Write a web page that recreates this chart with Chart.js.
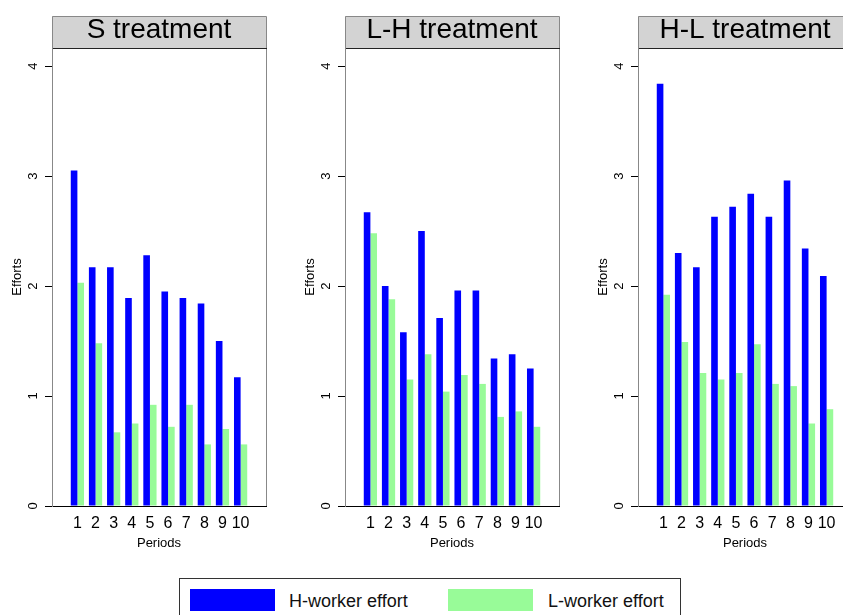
<!DOCTYPE html>
<html>
<head>
<meta charset="utf-8">
<script src="https://cdn.jsdelivr.net/npm/chart.js@4.4.1/dist/chart.umd.min.js"></script>
<style>
  html, body { margin: 0; padding: 0; background: #fff; overflow: hidden; }
  body { width: 843px; height: 615px; position: relative; font-family: "Liberation Sans", Arial, sans-serif; }
  canvas.panel { position: absolute; top: 0; }
  #legend { position: absolute; left: 179px; top: 578px; width: 502px; height: 50px; border: 1.5px solid #333; box-sizing: border-box; }
  .swatch { position: absolute; top: 10px; width: 85px; height: 22px; }
  .label { position: absolute; top: 11px; line-height: 22px; font-size: 18px; color: #111; white-space: nowrap; }
</style>
</head>
<body>
<canvas class="panel" id="panel0" width="293" height="560" style="left:0px"></canvas>
<canvas class="panel" id="panel1" width="293" height="560" style="left:293px"></canvas>
<canvas class="panel" id="panel2" width="293" height="560" style="left:586px"></canvas>
<div id="legend"></div>
<script>
const periods = ['1', '2', '3', '4', '5', '6', '7', '8', '9', '10'];
const effortTicks = [0, 1, 2, 3, 4];
const treatments = ['S treatment', 'L-H treatment', 'H-L treatment'];
const seriesNames = ['H-worker effort', 'L-worker effort'];

const sHigh = [3.05, 2.17, 2.17, 1.89, 2.28, 1.95, 1.89, 1.84, 1.50, 1.17];
const sLow = [2.03, 1.48, 0.67, 0.75, 0.92, 0.72, 0.92, 0.56, 0.70, 0.56];
const lhHigh = [2.67, 2.00, 1.58, 2.50, 1.71, 1.96, 1.96, 1.34, 1.38, 1.25];
const lhLow = [2.48, 1.88, 1.15, 1.38, 1.04, 1.19, 1.11, 0.81, 0.86, 0.72];
const hlHigh = [3.84, 2.30, 2.17, 2.63, 2.72, 2.84, 2.63, 2.96, 2.34, 2.09];
const hlLow = [1.92, 1.49, 1.21, 1.15, 1.21, 1.47, 1.11, 1.09, 0.75, 0.88];

const highColor = '#0000ff';
const lowColor = '#98fb98';
const fontFamily = '"Liberation Sans", Arial, sans-serif';

// grey strip behind the panel title, plus the grey frame around the plot
const stripPlugin = {
    id: 'strip',
    beforeDraw(chart) {
        const { ctx, chartArea } = chart;
        const top = 16;
        ctx.save();
        ctx.fillStyle = '#d3d3d3';
        ctx.fillRect(chartArea.left, top, chartArea.right - chartArea.left, chartArea.top - top);
        ctx.strokeStyle = '#888';
        ctx.lineWidth = 1;
        ctx.beginPath();
        ctx.moveTo(chartArea.left + 0.5, chartArea.bottom);
        ctx.lineTo(chartArea.left + 0.5, top + 0.5);
        ctx.lineTo(chartArea.right + 0.5, top + 0.5);
        ctx.lineTo(chartArea.right + 0.5, chartArea.bottom);
        ctx.stroke();
        ctx.strokeStyle = '#222';
        ctx.beginPath();
        ctx.moveTo(chartArea.left, chartArea.top + 0.5);
        ctx.lineTo(chartArea.right + 1, chartArea.top + 0.5);
        ctx.stroke();
        ctx.restore();
    },
};

function makePanel(canvasId, title, high, low) {
    const ctx = document.getElementById(canvasId).getContext('2d');
    return new Chart(ctx, {
        type: 'bar',
        data: {
            labels: periods,
            datasets: [
                { label: seriesNames[0], data: high, backgroundColor: highColor, borderWidth: 0 },
                { label: seriesNames[1], data: low, backgroundColor: lowColor, borderWidth: 0 },
            ],
        },
        options: {
            responsive: false,
            animation: false,
            devicePixelRatio: 1,
            categoryPercentage: 0.73,
            barPercentage: 1.0,
            layout: { padding: { top: 16, left: 0, right: 27, bottom: 0 } },
            plugins: {
                legend: { display: false },
                tooltip: { enabled: false },
                title: {
                    display: true,
                    text: title,
                    fullSize: false,
                    color: '#000',
                    font: { family: fontFamily, size: 28, weight: 'normal', lineHeight: 1 },
                    padding: { top: 0, bottom: 4 },
                },
            },
            scales: {
                x: {
                    type: 'linear',
                    bounds: 'data',
                    offset: false,
                    min: -0.4,
                    max: 11.4,
                    afterBuildTicks: (scale) => {
                        scale.ticks = periods.map((p) => ({ value: Number(p) }));
                    },
                    afterFit: (scale) => { scale.height = 54; },
                    ticks: {
                        autoSkip: false,
                        maxRotation: 0,
                        padding: 8,
                        color: '#000',
                        font: { family: fontFamily, size: 16 },
                    },
                    grid: { display: false, drawTicks: false, offset: false },
                    border: { display: true, color: '#000', width: 1 },
                    title: {
                        display: true,
                        text: 'Periods',
                        color: '#000',
                        font: { family: fontFamily, size: 13 },
                        padding: { top: 0, bottom: 9 },
                    },
                },
                y: {
                    min: 0,
                    max: 4.164,
                    afterBuildTicks: (scale) => {
                        scale.ticks = effortTicks.map((v) => ({ value: v }));
                    },
                    afterFit: (scale) => { scale.width = 52; },
                    ticks: {
                        minRotation: 90,
                        maxRotation: 90,
                        crossAlign: 'center',
                        padding: 8,
                        color: '#000',
                        font: { family: fontFamily, size: 13 },
                    },
                    grid: { drawOnChartArea: false, tickLength: 7, tickColor: '#000', color: '#000' },
                    border: { display: true, color: '#888', width: 1 },
                    title: {
                        display: true,
                        text: 'Efforts',
                        color: '#000',
                        font: { family: fontFamily, size: 13 },
                        padding: { top: 10, bottom: 0 },
                    },
                },
            },
        },
        plugins: [stripPlugin],
    });
}

function renderLegend() {
    const legend = document.getElementById('legend');
    const entries = [
        { name: seriesNames[0], color: highColor, swatchLeft: 10, textLeft: 109 },
        { name: seriesNames[1], color: lowColor, swatchLeft: 268, textLeft: 368 },
    ];
    entries.forEach((e) => {
        const sw = document.createElement('div');
        sw.className = 'swatch';
        sw.style.left = `${e.swatchLeft}px`;
        sw.style.background = e.color;
        legend.appendChild(sw);
        const tx = document.createElement('div');
        tx.className = 'label';
        tx.style.left = `${e.textLeft}px`;
        tx.textContent = e.name;
        legend.appendChild(tx);
    });
}

makePanel('panel0', treatments[0], sHigh, sLow);
makePanel('panel1', treatments[1], lhHigh, lhLow);
makePanel('panel2', treatments[2], hlHigh, hlLow);
renderLegend();
</script>
</body>
</html>
